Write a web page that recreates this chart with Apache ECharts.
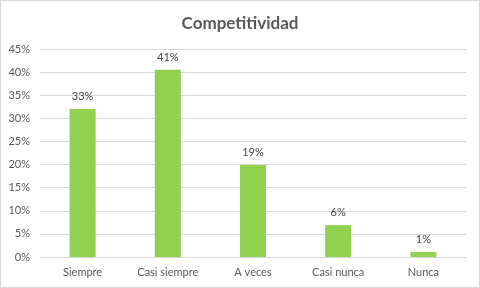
<!DOCTYPE html>
<html>
<head>
<meta charset="utf-8">
<script src="https://cdn.jsdelivr.net/npm/echarts@6/dist/echarts.min.js"></script>
<style>
  html, body { margin: 0; padding: 0; background: #fff; }
  #chart { width: 478px; height: 286px; border: 1px solid #d9d9d9; }
</style>
</head>
<body>
<div id="chart"></div>
<script>
// datos
const categories = ['Siempre', 'Casi siempre', 'A veces', 'Casi nunca', 'Nunca']
const values = [32.0, 40.5, 19.9, 6.9, 1.1]
const labels = ['33%', '41%', '19%', '6%', '1%']

const chart = echarts.init(document.getElementById('chart'))
const option = {
  animation: false,
  textStyle: { fontFamily: 'Lato' },
  title: {
    text: 'Competitividad',
    left: 'center',
    top: 9,
    textStyle: { fontSize: 17, fontWeight: 'bold', color: '#595959', fontFamily: 'Lato' }
  },
  grid: { left: 39, right: 13, top: 48, bottom: 30 },
  xAxis: {
    type: 'category',
    data: categories,
    axisLine: { lineStyle: { color: '#d9d9d9' } },
    axisTick: { show: false },
    axisLabel: { color: '#595959', fontSize: 11, margin: 10 }
  },
  yAxis: {
    type: 'value',
    min: 0,
    max: 45,
    interval: 5,
    axisLine: { show: false },
    axisTick: { show: false },
    axisLabel: { color: '#595959', fontSize: 11, margin: 10, formatter: '{value}%' },
    splitLine: { lineStyle: { color: '#d9d9d9' } }
  },
  series: [{
    type: 'bar',
    data: values,
    barWidth: 26,
    itemStyle: { color: '#92d050' },
    label: {
      show: true,
      position: 'top',
      distance: 7,
      color: '#404040',
      fontSize: 11,
      formatter: (p) => labels[p.dataIndex]
    }
  }]
}
chart.setOption(option)
</script>
</body>
</html>
